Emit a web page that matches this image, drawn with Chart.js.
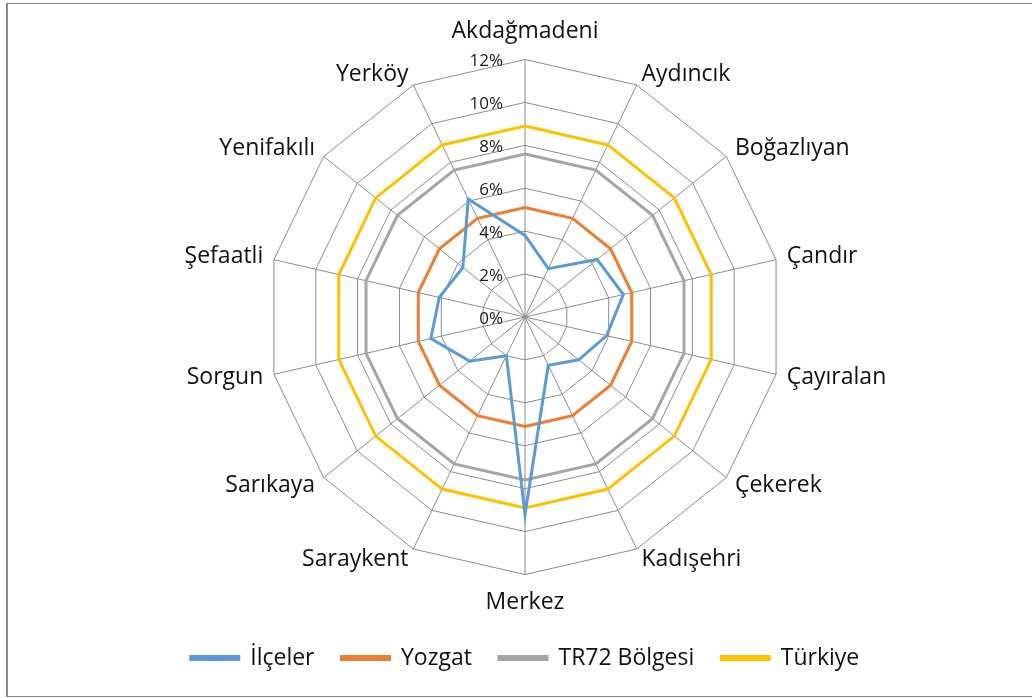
<!DOCTYPE html>
<html lang="tr">
<head>
<meta charset="UTF-8">
<title>İlçeler Radar</title>
<script src="https://cdn.jsdelivr.net/npm/chart.js"></script>
<style>
    body {
        margin: 0;
        background: #fff;
    }
    #frame {
        position: absolute;
        left: 6px;
        top: 3px;
        width: 1024px;
        height: 692px;
        border: 1px solid #8a8a8a;
        border-left-width: 2px;
    }
    canvas {
        display: block;
    }
</style>
</head>
<body>
<div id="frame">
    <canvas id="radar" width="1024" height="692"></canvas>
</div>

<script>
    // district names, clockwise from the top
    const districts = ['Akdağmadeni', 'Aydıncık', 'Boğazlıyan', 'Çandır', 'Çayıralan', 'Çekerek', 'Kadışehri',
        'Merkez', 'Saraykent', 'Sarıkaya', 'Sorgun', 'Şefaatli', 'Yenifakılı', 'Yerköy'];

    // values in percent
    const ilceler = [3.8, 2.5, 4.3, 4.7, 3.9, 3.2, 2.5, 9.2, 2.0, 3.3, 4.5, 4.1, 3.7, 6.1];
    const yozgat  = [5.1, 5.1, 5.1, 5.1, 5.1, 5.1, 5.1, 5.1, 5.1, 5.1, 5.1, 5.1, 5.1, 5.1];
    const tr72    = [7.6, 7.6, 7.6, 7.6, 7.6, 7.6, 7.6, 7.6, 7.6, 7.6, 7.6, 7.6, 7.6, 7.6];
    const turkiye = [8.9, 8.9, 8.9, 8.9, 8.9, 8.9, 8.9, 8.9, 8.9, 8.9, 8.9, 8.9, 8.9, 8.9];

    const tickValues = [0, 2, 4, 6, 8, 10, 12];

    const FONT = '"Open Sans", Lato, sans-serif';

    function series(label, data, color) {
        return {
            label: label,
            data: data,
            borderColor: color,
            backgroundColor: color,
            borderWidth: 3,
            pointRadius: 0,
            pointHoverRadius: 0,
            fill: false,
            tension: 0
        };
    }

    // top and bottom labels sit above/below the ring,
    // side labels are centred on their spoke (like Excel does)
    function isPole(ctx) {
        return ctx.index === 0 || ctx.index === 7;
    }

    // tick labels sit to the left of the vertical axis, like the original
    const leftTicks = {
        id: 'leftTicks',
        afterDraw(chart) {
            const scale = chart.scales.r;
            const ctx = chart.ctx;
            ctx.save();
            ctx.font = '17px ' + FONT;
            ctx.fillStyle = '#1a1a1a';
            ctx.textAlign = 'right';
            ctx.textBaseline = 'middle';
            tickValues.forEach(v => {
                const d = scale.getDistanceFromCenterForValue(v);
                ctx.fillText(v + '%', scale.xCenter - 22, scale.yCenter - d + 2);
            });
            ctx.restore();
        }
    };

    const chart = new Chart(document.getElementById('radar'), {
        type: 'radar',
        data: {
            labels: districts,
            datasets: [
                series('İlçeler', ilceler, '#5B9BD5'),
                series('Yozgat', yozgat, '#ED7D31'),
                series('TR72 Bölgesi', tr72, '#A5A5A5'),
                series('Türkiye', turkiye, '#FFC000')
            ]
        },
        options: {
            responsive: false,
            animation: false,
            layout: {
                padding: { top: 10.5, bottom: 16.5, left: 10, right: 0 }
            },
            scales: {
                r: {
                    min: 0,
                    max: 12,
                    ticks: {
                        stepSize: 2,
                        display: false
                    },
                    grid: {
                        color: '#8c8c8c',
                        lineWidth: 1
                    },
                    angleLines: {
                        color: '#8c8c8c',
                        lineWidth: 1
                    },
                    pointLabels: {
                        color: '#111',
                        padding: ctx => isPole(ctx) ? 11 : 11,
                        font: ctx => ({
                            family: FONT,
                            size: 23,
                            lineHeight: isPole(ctx) ? '34px' : '2px'
                        })
                    }
                }
            },
            plugins: {
                tooltip: { enabled: false },
                legend: {
                    position: 'bottom',
                    labels: {
                        color: '#111',
                        boxWidth: 48,
                        boxHeight: 3,
                        padding: 27,
                        font: { family: FONT, size: 23 }
                    }
                }
            }
        },
        plugins: [leftTicks]
    });
</script>
</body>
</html>
